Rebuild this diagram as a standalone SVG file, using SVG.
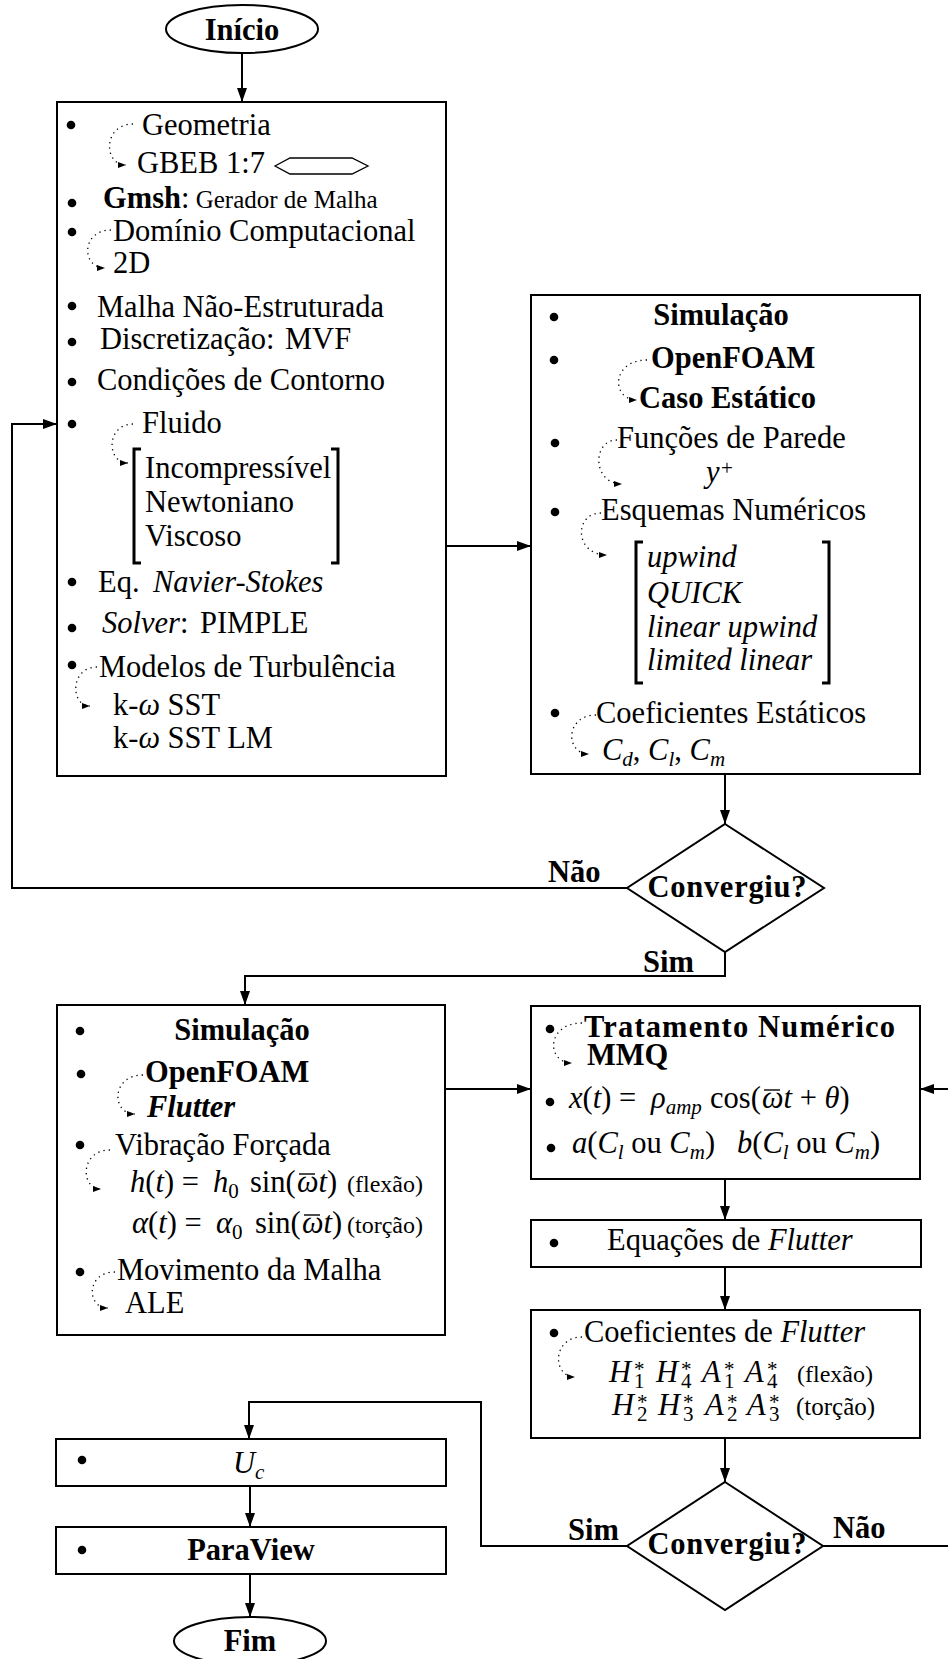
<svg xmlns="http://www.w3.org/2000/svg" width="948" height="1659" viewBox="0 0 948 1659">
<style>
.t{font-family:"Liberation Serif","Times New Roman",serif;font-size:30.5px;fill:#000}
.b{font-weight:bold}
.i{font-style:italic}
.s{font-size:25px}
.sb{font-size:21px}
.box{fill:#fff;stroke:#000;stroke-width:2}
.con{fill:none;stroke:#000;stroke-width:2}
.dot{fill:none;stroke:#000;stroke-width:1.3;stroke-dasharray:1.3 4}
.brk{fill:none;stroke:#000;stroke-width:3}
.bar{fill:none;stroke:#000;stroke-width:1.4}
</style>
<defs>
<marker id="ah" markerUnits="userSpaceOnUse" markerWidth="14" markerHeight="10" refX="14" refY="5" orient="auto"><path d="M0,0 L14,5 L0,10 z" fill="#000"/></marker>
<marker id="sh" markerUnits="userSpaceOnUse" markerWidth="8" markerHeight="6" refX="8" refY="3" orient="auto"><path d="M0,0 L8,3 L0,6 z" fill="#000"/></marker>
</defs>
<rect width="948" height="1659" fill="#fff"/>

<g id="connectors">
<path class="con" d="M242,53 L242,102" marker-end="url(#ah)"/>
<path class="con" d="M446,546 L531,546" marker-end="url(#ah)"/>
<path class="con" d="M725,774 L725,824" marker-end="url(#ah)"/>
<path class="con" d="M627,888 L12,888 L12,424 L57,424" marker-end="url(#ah)"/>
<path class="con" d="M725,952 L725,976 L245,976 L245,1005" marker-end="url(#ah)"/>
<path class="con" d="M445,1089 L531,1089" marker-end="url(#ah)"/>
<path class="con" d="M725,1179 L725,1220" marker-end="url(#ah)"/>
<path class="con" d="M725,1267 L725,1310" marker-end="url(#ah)"/>
<path class="con" d="M725,1438 L725,1482" marker-end="url(#ah)"/>
<path class="con" d="M823,1546 L960,1546 L960,1089 L920,1089" marker-end="url(#ah)"/>
<path class="con" d="M627,1546 L481,1546 L481,1402 L249,1402 L249,1439" marker-end="url(#ah)"/>
<path class="con" d="M250,1486 L250,1527" marker-end="url(#ah)"/>
<path class="con" d="M250,1574 L250,1617" marker-end="url(#ah)"/>
<text class="t b" x="548" y="882">Não</text>
<text class="t b" x="643" y="972">Sim</text>
<text class="t b" x="568" y="1540">Sim</text>
<text class="t b" x="833" y="1538">Não</text>
</g>

<g id="inicio">
<ellipse cx="242" cy="29" rx="76" ry="24" class="box"/>
<text class="t b" x="242" y="40" text-anchor="middle">Início</text>
</g>

<g id="pre-processamento">
<rect x="57" y="102" width="389" height="674" class="box"/>
<circle cx="71" cy="125" r="4.3"/>
<text class="t" x="142" y="135">Geometria</text>
<path class="dot" d="M133,124 C103,124 103,165 126,165" marker-end="url(#sh)"/>
<text class="t" x="137" y="173">GBEB 1:7</text>
<polygon points="275,166 290,158 352,158 368,166 352,174 290,174" fill="none" stroke="#000" stroke-width="1.3"/>
<circle cx="72" cy="203" r="4.3"/>
<text class="t" x="103" y="208"><tspan class="b">Gmsh</tspan>:<tspan class="s"> Gerador de Malha</tspan></text>
<circle cx="72" cy="232" r="4.3"/>
<text class="t" x="113" y="241">Domínio Computacional</text>
<path class="dot" d="M111,230 C81,230 81,268 105,268" marker-end="url(#sh)"/>
<text class="t" x="113" y="273">2D</text>
<circle cx="72" cy="306" r="4.3"/>
<text class="t" x="97" y="317">Malha Não-Estruturada</text>
<circle cx="72" cy="342" r="4.3"/>
<text class="t" x="100" y="349">Discretização:<tspan x="285">MVF</tspan></text>
<circle cx="72" cy="382" r="4.3"/>
<text class="t" x="97" y="390">Condições de Contorno</text>
<circle cx="72" cy="424" r="4.3"/>
<text class="t" x="142" y="433">Fluido</text>
<path class="dot" d="M133,424 C106,424 106,463 128,463" marker-end="url(#sh)"/>
<path class="brk" d="M141,449 L134,449 L134,563 L141,563"/>
<path class="brk" d="M331,449 L338,449 L338,563 L331,563"/>
<text class="t" x="145" y="478">Incompressível</text>
<text class="t" x="145" y="512">Newtoniano</text>
<text class="t" x="145" y="546">Viscoso</text>
<circle cx="72" cy="582" r="4.3"/>
<text class="t" x="98" y="592">Eq.<tspan class="i" x="153">Navier-Stokes</tspan></text>
<circle cx="72" cy="628" r="4.3"/>
<text class="t" x="102" y="633"><tspan class="i">Solver</tspan>:<tspan x="200">PIMPLE</tspan></text>
<circle cx="72" cy="665" r="4.3"/>
<text class="t" x="99" y="677">Modelos de Turbulência</text>
<path class="dot" d="M97,667 C70,667 70,706 90,706" marker-end="url(#sh)"/>
<text class="t" x="113" y="715">k-<tspan class="i">ω</tspan> SST</text>
<text class="t" x="113" y="748">k-<tspan class="i">ω</tspan> SST LM</text>
</g>

<g id="simulacao-estatica">
<rect x="531" y="295" width="389" height="479" class="box"/>
<circle cx="554" cy="317" r="4.3"/>
<text class="t b" x="721" y="325" text-anchor="middle">Simulação</text>
<circle cx="554" cy="360" r="4.3"/>
<text class="t b" x="651" y="368">OpenFOAM</text>
<path class="dot" d="M647,360 C611,360 611,400 637,400" marker-end="url(#sh)"/>
<text class="t b" x="639" y="408">Caso Estático</text>
<circle cx="555" cy="443" r="4.3"/>
<text class="t" x="617" y="448">Funções de Parede</text>
<path class="dot" d="M617,440 C592,440 592,484 622,484" marker-end="url(#sh)"/>
<text class="t" x="706" y="482"><tspan class="i">y</tspan><tspan class="sb" x="721" dy="-7">+</tspan></text>
<circle cx="555" cy="512" r="4.3"/>
<text class="t" x="601" y="520">Esquemas Numéricos</text>
<path class="dot" d="M601,513 C574,513 574,555 607,555" marker-end="url(#sh)"/>
<path class="brk" d="M643,542 L636,542 L636,683 L643,683"/>
<path class="brk" d="M822,542 L829,542 L829,683 L822,683"/>
<text class="t i" x="647" y="567">upwind</text>
<text class="t i" x="647" y="603">QUICK</text>
<text class="t i" x="647" y="637">linear upwind</text>
<text class="t i" x="647" y="670">limited linear</text>
<circle cx="555" cy="713" r="4.3"/>
<text class="t" x="596" y="723">Coeficientes Estáticos</text>
<path class="dot" d="M596,715 C565,715 565,754 589,754" marker-end="url(#sh)"/>
<text class="t" x="602" y="760"><tspan class="i">C</tspan><tspan class="sb i" dy="6">d</tspan><tspan dy="-6">, </tspan><tspan class="i">C</tspan><tspan class="sb i" dy="6">l</tspan><tspan dy="-6">, </tspan><tspan class="i">C</tspan><tspan class="sb i" dy="6">m</tspan></text>
</g>

<g id="convergiu-1">
<polygon points="725,824 824,888 725,952 627,888" class="box"/>
<text class="t b" x="727" y="897" text-anchor="middle" textLength="159" lengthAdjust="spacing">Convergiu?</text>
</g>

<g id="simulacao-flutter">
<rect x="57" y="1005" width="388" height="330" class="box"/>
<circle cx="80" cy="1031" r="4.3"/>
<text class="t b" x="242" y="1040" text-anchor="middle">Simulação</text>
<circle cx="81" cy="1074" r="4.3"/>
<text class="t b" x="145" y="1082">OpenFOAM</text>
<path class="dot" d="M143,1075 C111,1075 111,1114 135,1114" marker-end="url(#sh)"/>
<text class="t b i" x="147" y="1117">Flutter</text>
<circle cx="80" cy="1145" r="4.3"/>
<text class="t" x="115" y="1155">Vibração Forçada</text>
<path class="dot" d="M110,1150 C80,1150 80,1189 101,1189" marker-end="url(#sh)"/>
<text class="t" x="130" y="1192"><tspan class="i">h</tspan>(<tspan class="i">t</tspan>) = <tspan class="i" x="213">h</tspan><tspan class="sb" dy="6">0</tspan><tspan x="250" dy="-6">sin(</tspan><tspan class="i" x="297">ω</tspan><tspan class="i">t</tspan>)<tspan x="347" font-size="24">(flexão)</tspan></text>
<path class="bar" d="M299,1174 L315,1174"/>
<text class="t" x="132" y="1233"><tspan class="i">α</tspan>(<tspan class="i">t</tspan>) = <tspan class="i" x="216">α</tspan><tspan class="sb" dy="6">0</tspan><tspan x="255" dy="-6">sin(</tspan><tspan class="i" x="302">ω</tspan><tspan class="i">t</tspan>)<tspan x="347" font-size="24">(torção)</tspan></text>
<path class="bar" d="M304,1215 L320,1215"/>
<circle cx="80" cy="1272" r="4.3"/>
<text class="t" x="117" y="1280">Movimento da Malha</text>
<path class="dot" d="M115,1272 C86,1272 86,1308 108,1308" marker-end="url(#sh)"/>
<text class="t" x="125" y="1313">ALE</text>
</g>

<g id="tratamento-numerico">
<rect x="531" y="1006" width="389" height="173" class="box"/>
<circle cx="550" cy="1029" r="4.3"/>
<text class="t b" x="584" y="1037" textLength="311" lengthAdjust="spacing">Tratamento Numérico</text>
<path class="dot" d="M582,1023 C546,1023 546,1063 572,1063" marker-end="url(#sh)"/>
<text class="t b" x="587" y="1065">MMQ</text>
<circle cx="550" cy="1102" r="4.3"/>
<text class="t" x="569" y="1108"><tspan class="i">x</tspan>(<tspan class="i">t</tspan>) = <tspan class="i" x="651">ρ</tspan><tspan class="sb i" dy="6">amp</tspan><tspan x="710" dy="-6">cos(</tspan><tspan class="i" x="762">ω</tspan><tspan class="i">t</tspan> + <tspan class="i">θ</tspan>)</text>
<path class="bar" d="M764,1090 L780,1090"/>
<circle cx="551" cy="1148" r="4.3"/>
<text class="t" x="572" y="1153"><tspan class="i">a</tspan>(<tspan class="i">C</tspan><tspan class="sb i" dy="6">l</tspan><tspan dy="-6"> ou </tspan><tspan class="i">C</tspan><tspan class="sb i" dy="6">m</tspan><tspan dy="-6">)</tspan><tspan class="i" x="737">b</tspan>(<tspan class="i">C</tspan><tspan class="sb i" dy="6">l</tspan><tspan dy="-6"> ou </tspan><tspan class="i">C</tspan><tspan class="sb i" dy="6">m</tspan><tspan dy="-6">)</tspan></text>
</g>

<g id="equacoes-flutter">
<rect x="531" y="1220" width="390" height="47" class="box"/>
<circle cx="554" cy="1243" r="4.3"/>
<text class="t" x="607" y="1250">Equações de <tspan class="i">Flutter</tspan></text>
</g>

<g id="coeficientes-flutter">
<rect x="531" y="1310" width="389" height="128" class="box"/>
<circle cx="554" cy="1333" r="4.3"/>
<text class="t" x="584" y="1342">Coeficientes de <tspan class="i">Flutter</tspan></text>
<path class="dot" d="M582,1337 C552,1337 552,1377 575,1377" marker-end="url(#sh)"/>
<text class="t" y="1382"><tspan class="i" x="609">H</tspan><tspan class="sb" x="634" dy="-6">*</tspan><tspan class="sb" x="634" dy="12">1</tspan><tspan class="i" x="656" dy="-6">H</tspan><tspan class="sb" x="681" dy="-6">*</tspan><tspan class="sb" x="681" dy="12">4</tspan><tspan class="i" x="702" dy="-6">A</tspan><tspan class="sb" x="724" dy="-6">*</tspan><tspan class="sb" x="724" dy="12">1</tspan><tspan class="i" x="745" dy="-6">A</tspan><tspan class="sb" x="767" dy="-6">*</tspan><tspan class="sb" x="767" dy="12">4</tspan><tspan x="797" dy="-6" font-size="24">(flexão)</tspan></text>
<text class="t" y="1415"><tspan class="i" x="612">H</tspan><tspan class="sb" x="637" dy="-6">*</tspan><tspan class="sb" x="637" dy="12">2</tspan><tspan class="i" x="658" dy="-6">H</tspan><tspan class="sb" x="683" dy="-6">*</tspan><tspan class="sb" x="683" dy="12">3</tspan><tspan class="i" x="705" dy="-6">A</tspan><tspan class="sb" x="727" dy="-6">*</tspan><tspan class="sb" x="727" dy="12">2</tspan><tspan class="i" x="747" dy="-6">A</tspan><tspan class="sb" x="769" dy="-6">*</tspan><tspan class="sb" x="769" dy="12">3</tspan><tspan x="796" dy="-6" font-size="25">(torção)</tspan></text>
</g>

<g id="convergiu-2">
<polygon points="725,1482 823,1546 725,1610 627,1546" class="box"/>
<text class="t b" x="727" y="1554" text-anchor="middle" textLength="159" lengthAdjust="spacing">Convergiu?</text>
</g>

<g id="velocidade-critica">
<rect x="56" y="1439" width="390" height="47" class="box"/>
<circle cx="82" cy="1460" r="4.3"/>
<text class="t" x="233" y="1473"><tspan class="i">U</tspan><tspan class="sb i" dy="6">c</tspan></text>
</g>

<g id="paraview">
<rect x="56" y="1527" width="390" height="47" class="box"/>
<circle cx="82" cy="1550" r="4.3"/>
<text class="t b" x="251" y="1560" text-anchor="middle">ParaView</text>
</g>

<g id="fim">
<ellipse cx="250" cy="1641" rx="76" ry="24" class="box"/>
<text class="t b" x="250" y="1651" text-anchor="middle">Fim</text>
</g>
</svg>
